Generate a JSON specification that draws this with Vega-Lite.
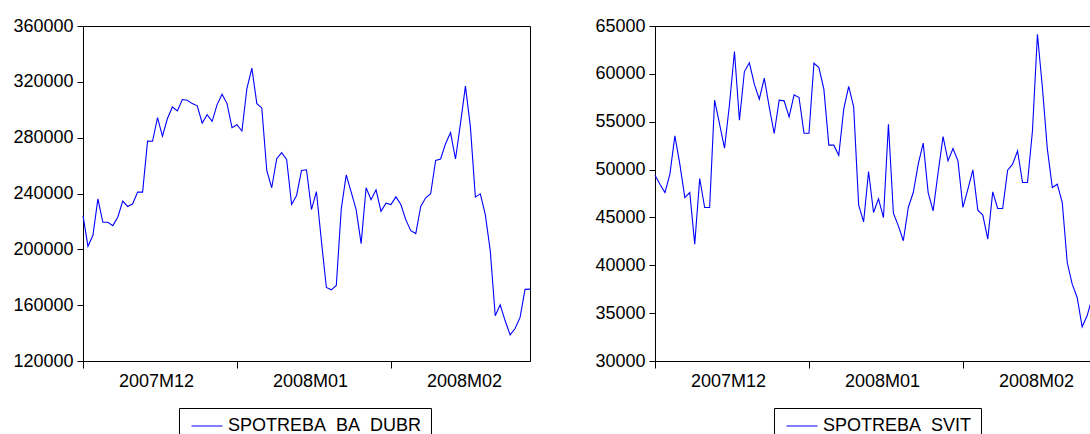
{
 "$schema": "https://vega.github.io/schema/vega-lite/v6.json",
 "background": "white",
 "padding": {"left": 12, "top": 16, "right": 0, "bottom": 0},
 "bounds": "flush",
 "spacing": 125,
 "config": {
  "font": "Liberation Sans",
  "view": {"stroke": "black", "strokeWidth": 1},
  "axis": {"labelFont": "Liberation Sans", "labelFontSize": 18, "labelColor": "#000", "domainColor": "#000", "tickColor": "#000", "grid": false, "title": null},
  "legend": {"symbolType": "M-3,0H3", "symbolSize": 107, "symbolOffset": 10, "symbolStrokeWidth": 1, "labelFont": "Liberation Sans", "labelFontSize": 18, "labelColor": "#000", "labelOffset": 12, "labelLimit": 500, "padding": 9, "strokeColor": "black", "fillColor": "white", "title": null}
 },
 "data": {"values": [
  {"date": "2007-12-01", "dubr": 224200, "svit": 49415},
  {"date": "2007-12-02", "dubr": 202200, "svit": 48470},
  {"date": "2007-12-03", "dubr": 210100, "svit": 47600},
  {"date": "2007-12-04", "dubr": 236200, "svit": 49520},
  {"date": "2007-12-05", "dubr": 219400, "svit": 53520},
  {"date": "2007-12-06", "dubr": 219400, "svit": 50560},
  {"date": "2007-12-07", "dubr": 217000, "svit": 47080},
  {"date": "2007-12-08", "dubr": 223000, "svit": 47600},
  {"date": "2007-12-09", "dubr": 234500, "svit": 42210},
  {"date": "2007-12-10", "dubr": 230700, "svit": 49070},
  {"date": "2007-12-11", "dubr": 232600, "svit": 46040},
  {"date": "2007-12-12", "dubr": 241000, "svit": 46040},
  {"date": "2007-12-13", "dubr": 241000, "svit": 57250},
  {"date": "2007-12-14", "dubr": 277600, "svit": 54740},
  {"date": "2007-12-15", "dubr": 277400, "svit": 52240},
  {"date": "2007-12-16", "dubr": 294400, "svit": 56830},
  {"date": "2007-12-17", "dubr": 281000, "svit": 62330},
  {"date": "2007-12-18", "dubr": 293700, "svit": 55160},
  {"date": "2007-12-19", "dubr": 302000, "svit": 60240},
  {"date": "2007-12-20", "dubr": 299200, "svit": 61150},
  {"date": "2007-12-21", "dubr": 307300, "svit": 58920},
  {"date": "2007-12-22", "dubr": 306800, "svit": 57350},
  {"date": "2007-12-23", "dubr": 304400, "svit": 59550},
  {"date": "2007-12-24", "dubr": 302800, "svit": 56550},
  {"date": "2007-12-25", "dubr": 290500, "svit": 53770},
  {"date": "2007-12-26", "dubr": 296500, "svit": 57250},
  {"date": "2007-12-27", "dubr": 291700, "svit": 57180},
  {"date": "2007-12-28", "dubr": 303700, "svit": 55510},
  {"date": "2007-12-29", "dubr": 311100, "svit": 57810},
  {"date": "2007-12-30", "dubr": 304400, "svit": 57530},
  {"date": "2007-12-31", "dubr": 287200, "svit": 53800},
  {"date": "2008-01-01", "dubr": 289300, "svit": 53800},
  {"date": "2008-01-02", "dubr": 284800, "svit": 61110},
  {"date": "2008-01-03", "dubr": 315200, "svit": 60660},
  {"date": "2008-01-04", "dubr": 329800, "svit": 58400},
  {"date": "2008-01-05", "dubr": 304400, "svit": 52550},
  {"date": "2008-01-06", "dubr": 301300, "svit": 52550},
  {"date": "2008-01-07", "dubr": 256500, "svit": 51500},
  {"date": "2008-01-08", "dubr": 244100, "svit": 56310},
  {"date": "2008-01-09", "dubr": 264900, "svit": 58680},
  {"date": "2008-01-10", "dubr": 269200, "svit": 56550},
  {"date": "2008-01-11", "dubr": 264400, "svit": 46320},
  {"date": "2008-01-12", "dubr": 232100, "svit": 44540},
  {"date": "2008-01-13", "dubr": 238600, "svit": 49800},
  {"date": "2008-01-14", "dubr": 256500, "svit": 45510},
  {"date": "2008-01-15", "dubr": 257000, "svit": 46950},
  {"date": "2008-01-16", "dubr": 228500, "svit": 44990},
  {"date": "2008-01-17", "dubr": 241400, "svit": 54740},
  {"date": "2008-01-18", "dubr": 206000, "svit": 45450},
  {"date": "2008-01-19", "dubr": 172700, "svit": 44120},
  {"date": "2008-01-20", "dubr": 171000, "svit": 42560},
  {"date": "2008-01-21", "dubr": 174100, "svit": 46040},
  {"date": "2008-01-22", "dubr": 229000, "svit": 47600},
  {"date": "2008-01-23", "dubr": 253400, "svit": 50560},
  {"date": "2008-01-24", "dubr": 241000, "svit": 52760},
  {"date": "2008-01-25", "dubr": 228500, "svit": 47600},
  {"date": "2008-01-26", "dubr": 204100, "svit": 45690},
  {"date": "2008-01-27", "dubr": 244100, "svit": 49690},
  {"date": "2008-01-28", "dubr": 235500, "svit": 53450},
  {"date": "2008-01-29", "dubr": 242600, "svit": 50910},
  {"date": "2008-01-30", "dubr": 227300, "svit": 52200},
  {"date": "2008-01-31", "dubr": 233100, "svit": 50910},
  {"date": "2008-02-01", "dubr": 232100, "svit": 46040},
  {"date": "2008-02-02", "dubr": 237600, "svit": 47950},
  {"date": "2008-02-03", "dubr": 232100, "svit": 49970},
  {"date": "2008-02-04", "dubr": 221100, "svit": 45760},
  {"date": "2008-02-05", "dubr": 213400, "svit": 45240},
  {"date": "2008-02-06", "dubr": 211300, "svit": 42730},
  {"date": "2008-02-07", "dubr": 230700, "svit": 47670},
  {"date": "2008-02-08", "dubr": 236900, "svit": 45930},
  {"date": "2008-02-09", "dubr": 239800, "svit": 45930},
  {"date": "2008-02-10", "dubr": 263700, "svit": 49940},
  {"date": "2008-02-11", "dubr": 264700, "svit": 50560},
  {"date": "2008-02-12", "dubr": 275700, "svit": 51960},
  {"date": "2008-02-13", "dubr": 283600, "svit": 48650},
  {"date": "2008-02-14", "dubr": 264700, "svit": 48650},
  {"date": "2008-02-15", "dubr": 290100, "svit": 54050},
  {"date": "2008-02-16", "dubr": 316900, "svit": 64140},
  {"date": "2008-02-17", "dubr": 287700, "svit": 58570},
  {"date": "2008-02-18", "dubr": 237400, "svit": 52130},
  {"date": "2008-02-19", "dubr": 239800, "svit": 48130},
  {"date": "2008-02-20", "dubr": 224900, "svit": 48470},
  {"date": "2008-02-21", "dubr": 199000, "svit": 46560},
  {"date": "2008-02-22", "dubr": 152400, "svit": 40290},
  {"date": "2008-02-23", "dubr": 160300, "svit": 38030},
  {"date": "2008-02-24", "dubr": 148800, "svit": 36640},
  {"date": "2008-02-25", "dubr": 138700, "svit": 33570},
  {"date": "2008-02-26", "dubr": 143300, "svit": 34720},
  {"date": "2008-02-27", "dubr": 151200, "svit": 36570},
  {"date": "2008-02-28", "dubr": 171300, "svit": 38500},
  {"date": "2008-02-29", "dubr": 171500, "svit": 39000}
 ]},
 "hconcat": [
  {
   "width": 447, "height": 335,
   "mark": {"type": "line", "strokeWidth": 1.1},
   "encoding": {
    "x": {"field": "date", "type": "temporal",
     "scale": {"type": "utc", "domain": [{"year": 2007, "month": 12, "date": 1, "utc": true}, {"year": 2008, "month": 2, "date": 29, "utc": true}]},
     "axis": {"values": [{"year": 2007, "month": 12, "date": 1, "utc": true}, {"year": 2008, "month": 1, "date": 1, "utc": true}, {"year": 2008, "month": 2, "date": 1, "utc": true}],
      "labelExpr": "utcFormat(datum.value, '%YM%m')", "labelOffset": 73, "tickSize": 7, "labelPadding": 4, "labelFlush": false, "labelBound": false, "labelOverlap": false}},
    "y": {"field": "dubr", "type": "quantitative",
     "scale": {"domain": [120000, 360000], "nice": false, "zero": false},
     "axis": {"values": [120000, 160000, 200000, 240000, 280000, 320000, 360000], "format": "d", "tickSize": 6, "labelPadding": 4}},
    "color": {"datum": "SPOTREBA_BA_DUBR", "type": "nominal", "scale": {"range": ["#0000ff"]},
     "legend": {"orient": "none", "legendX": 96, "legendY": 382}}
   }
  },
  {
   "width": 447, "height": 335,
   "mark": {"type": "line", "strokeWidth": 1.1},
   "encoding": {
    "x": {"field": "date", "type": "temporal",
     "scale": {"type": "utc", "domain": [{"year": 2007, "month": 12, "date": 1, "utc": true}, {"year": 2008, "month": 2, "date": 29, "utc": true}]},
     "axis": {"values": [{"year": 2007, "month": 12, "date": 1, "utc": true}, {"year": 2008, "month": 1, "date": 1, "utc": true}, {"year": 2008, "month": 2, "date": 1, "utc": true}],
      "labelExpr": "utcFormat(datum.value, '%YM%m')", "labelOffset": 73, "tickSize": 7, "labelPadding": 4, "labelFlush": false, "labelBound": false, "labelOverlap": false}},
    "y": {"field": "svit", "type": "quantitative",
     "scale": {"domain": [30000, 65000], "nice": false, "zero": false},
     "axis": {"values": [30000, 35000, 40000, 45000, 50000, 55000, 60000, 65000], "format": "d", "tickSize": 6, "labelPadding": 4}},
    "color": {"datum": "SPOTREBA_SVIT", "type": "nominal", "scale": {"range": ["#0000ff"]},
     "legend": {"orient": "none", "legendX": 119, "legendY": 382}}
   }
  }
 ],
 "resolve": {"scale": {"color": "independent", "x": "independent", "y": "independent"}, "legend": {"color": "independent"}}
}
